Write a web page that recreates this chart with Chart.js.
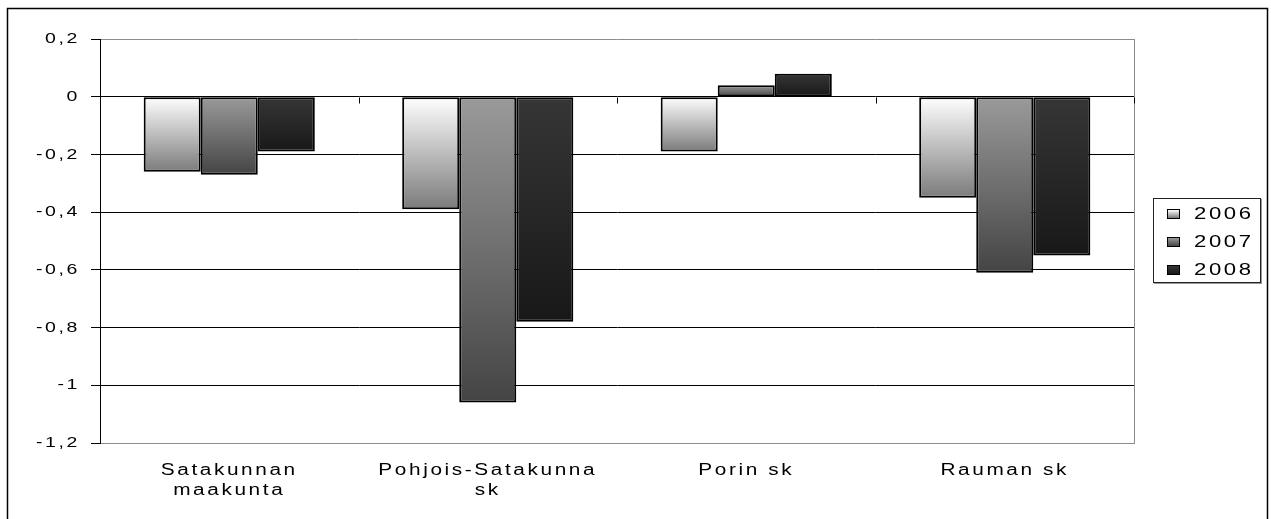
<!DOCTYPE html>
<html>
<head>
<meta charset="utf-8">
<title>Satakunta</title>
<script src="https://cdn.jsdelivr.net/npm/chart.js@4/dist/chart.umd.min.js"></script>
<style>
  html, body { margin:0; padding:0; background:#fff; }
  #wrap { position:relative; width:1271px; height:519px; overflow:hidden; }
  #legend {
    position:absolute; left:1153px; top:198px; width:106px; height:83px;
    border:1px solid #222; box-shadow:1px 1px 0 #999;
    font-family:'Liberation Sans', Arial, sans-serif; font-size:17px;
    color:#000; background:#fff;
  }
  .lg-row { position:absolute; left:13px; height:20px; line-height:20px; display:flex; align-items:center; }
  .lg-sw { width:11px; height:8px; border:1px solid #000; margin-right:14px; }
  .lg-tx { display:inline-block; letter-spacing:2px; transform:scaleX(1.3); transform-origin:left center; }
</style>
</head>
<body>
<div id="wrap">
  <canvas id="chart" width="1271" height="519"></canvas>
  <div id="legend"></div>
</div>
<script>
// data
const categories = [['Satakunnan', 'maakunta'], ['Pohjois-Satakunna', 'sk'], 'Porin sk', 'Rauman sk'];
const years = ['2006', '2007', '2008'];
const v2006 = [-0.26, -0.39, -0.19, -0.35];
const v2007 = [-0.27, -1.06, 0.04, -0.61];
const v2008 = [-0.19, -0.78, 0.08, -0.55];
const yTicks = [0.2, 0, -0.2, -0.4, -0.6, -0.8, -1, -1.2];

// top -> bottom gradient of each series
const gradStops = [['#ffffff', '#7b7b7b'], ['#9a9a9a', '#444444'], ['#363636', '#181818']];
const TEXT_SX = 1.3;   // the source chart's text is drawn wide

function barFill(c) {
  const stops = gradStops[c.datasetIndex];
  const y = c.chart.scales.y;
  if (!y || c.raw == null) return stops[1];
  const a = y.getPixelForValue(c.raw), b = y.getPixelForValue(0);
  if (!isFinite(a) || !isFinite(b) || a === b) return stops[1];
  const g = c.chart.ctx.createLinearGradient(0, Math.min(a, b), 0, Math.max(a, b));
  g.addColorStop(0, stops[0]);
  g.addColorStop(1, stops[1]);
  return g;
}

// legend (html, same gradients)
document.getElementById('legend').innerHTML = years.map((yr, i) =>
  `<div class="lg-row" style="top:${5 + i * 28}px">
     <span class="lg-sw" style="background:linear-gradient(${gradStops[i][0]},${gradStops[i][1]})"></span><span class="lg-tx">${yr}</span>
   </div>`).join('');

const isEdge = v => Math.abs(v - yTicks[0]) < 1e-6 || Math.abs(v - yTicks[yTicks.length - 1]) < 1e-6;

const framePlugin = {
  id: 'frame',
  beforeDraw(chart) {
    const ctx = chart.ctx;
    if (!ctx._wide) {
      const orig = ctx.fillText.bind(ctx);
      ctx.fillText = function (t, x, y, maxW) {
        this.save();
        this.translate(x, y);
        this.scale(TEXT_SX, 1);
        if (maxW === undefined) orig(t, 0, 0);
        else orig(t, 0, 0, maxW / TEXT_SX);
        this.restore();
      };
      ctx._wide = true;
    }
    ctx.letterSpacing = '2px';
  },
  beforeDatasetsDraw(chart) {
    const { ctx, chartArea: ca, scales: { x, y } } = chart;
    ctx.save();
    // right side of plot area
    ctx.strokeStyle = '#8c8c8c';
    ctx.lineWidth = 1;
    ctx.beginPath();
    ctx.moveTo(Math.round(ca.right) + 0.5, ca.top);
    ctx.lineTo(Math.round(ca.right) + 0.5, ca.bottom);
    ctx.stroke();
    // category tick marks on the zero line
    const y0 = Math.round(y.getPixelForValue(0)) + 0.5;
    ctx.strokeStyle = '#000';
    ctx.beginPath();
    for (let i = 0; i < categories.length; i++) {
      const bx = i < categories.length - 1
        ? (x.getPixelForValue(i) + x.getPixelForValue(i + 1)) / 2
        : ca.right;
      ctx.moveTo(Math.round(bx) + 0.5, y0);
      ctx.lineTo(Math.round(bx) + 0.5, y0 + 6);
    }
    ctx.stroke();
    ctx.restore();
  },
  afterDraw(chart) {
    const ctx = chart.ctx;
    ctx.save();
    ctx.strokeStyle = '#000';
    ctx.lineWidth = 1.5;
    ctx.strokeRect(7.5, 8.5, 1260, 540);
    ctx.restore();
  }
};

Chart.defaults.font.family = "'Liberation Sans', Arial, sans-serif";
Chart.defaults.color = '#000';

new Chart(document.getElementById('chart'), {
  type: 'bar',
  data: {
    labels: categories,
    datasets: [v2006, v2007, v2008].map((vals, i) => ({
      label: years[i],
      data: vals,
      backgroundColor: barFill,
      borderColor: '#000',
      borderWidth: 2,
      borderSkipped: false,
      categoryPercentage: 0.662,
      barPercentage: 1
    }))
  },
  options: {
    responsive: false,
    animation: false,
    layout: { padding: { left: 0, top: 39, right: 137, bottom: 0 } },
    plugins: { legend: { display: false }, tooltip: { enabled: false } },
    scales: {
      x: {
        grid: { display: false, drawTicks: false },
        border: { display: true, color: '#8c8c8c', width: 1 },
        ticks: { font: { size: 16, lineHeight: 1.22 }, padding: 18, maxRotation: 0, minRotation: 0, autoSkip: false },
        afterFit(s) { s.height = 76; }
      },
      y: {
        min: -1.2, max: 0.2,
        ticks: {
          stepSize: 0.2, padding: 11, font: { size: 15 },
          callback: v => String(Number(v.toFixed(1))).replace('.', ',')
        },
        grid: {
          color: c => (c.tick && isEdge(c.tick.value)) ? '#8c8c8c' : '#000',
          tickColor: '#000', tickLength: 9, lineWidth: 1
        },
        border: { color: '#000', width: 1 },
        afterFit(s) { s.width = 100; }
      }
    }
  },
  plugins: [framePlugin]
});
</script>
</body>
</html>
